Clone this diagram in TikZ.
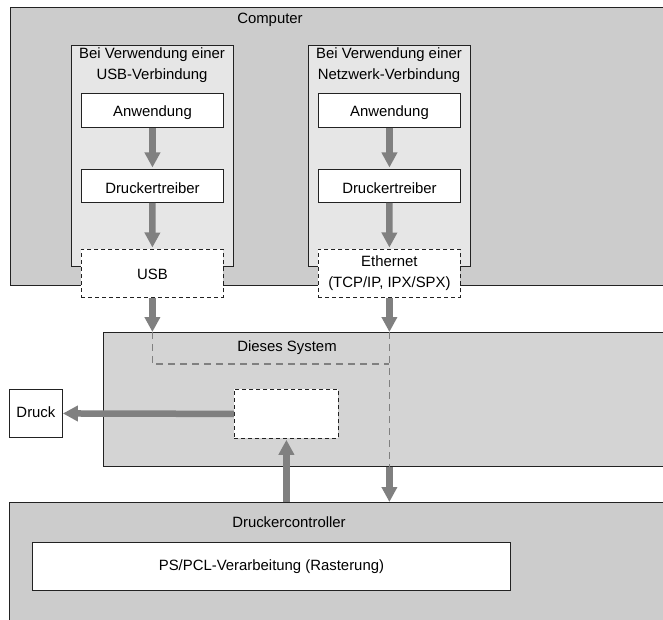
\documentclass[tikz,border=0pt]{standalone}
\usepackage{fontspec}
\setmainfont{Liberation Sans}
\usetikzlibrary{arrows.meta}
\definecolor{outerfill}{HTML}{CCCCCC}
\definecolor{sysfill}{HTML}{D4D4D4}
\definecolor{innerfill}{HTML}{E6E6E6}
\definecolor{arrowgray}{HTML}{808080}
\definecolor{edge}{HTML}{222222}
\begin{document}
\begin{tikzpicture}[x=1pt,y=-1pt,
  pbox/.style={draw=edge, line width=0.9pt, inner sep=0pt, anchor=north west},
  whitebox/.style={pbox, fill=white},
  dashbox/.style={draw=edge, line width=0.8pt, dash pattern=on 4pt off 3pt, fill=white, inner sep=0pt, anchor=north west},
  txt/.style={font=\fontsize{14.9}{21}\selectfont, inner sep=0pt, align=center},
  flow/.style={draw=arrowgray, line width=6.5pt, -{Triangle[width=15pt,length=15pt]}},
  gdash/.style={draw=arrowgray, line width=1.4pt, dash pattern=on 7pt off 5pt},
]
\clip (0,0) rectangle (663,620);
\fill[white] (0,0) rectangle (663,620);

% Computer
\node[pbox, fill=outerfill, minimum width=700pt, minimum height=278pt] (computer) at (10,7) {};
\node[txt] (computerlbl) at (270,20) {Computer};

% USB group
\node[pbox, fill=innerfill, minimum width=162pt, minimum height=221pt] (usbgrp) at (71,45) {};
\node[txt] (usbgrplbl) at (152,65.5) {Bei Verwendung einer\\USB-Verbindung};
\node[whitebox, minimum width=142pt, minimum height=34pt] (usbA) at (81,93) {};
\node[txt] at ([yshift=-2pt]usbA.center) {Anwendung};
\node[whitebox, minimum width=142pt, minimum height=33pt] (usbD) at (81,169) {};
\node[txt] at ([yshift=-2pt]usbD.center) {Druckertreiber};
\node[dashbox, minimum width=142pt, minimum height=48pt] (usb) at (81,249) {};
\node[txt] at ([yshift=-1pt]usb.center) {USB};

% Network group
\node[pbox, fill=innerfill, minimum width=162pt, minimum height=221pt] (netgrp) at (308,45) {};
\node[txt] (netgrplbl) at (389,65.5) {Bei Verwendung einer\\Netzwerk-Verbindung};
\node[whitebox, minimum width=142pt, minimum height=34pt] (netA) at (318,93) {};
\node[txt] at ([yshift=-2pt]netA.center) {Anwendung};
\node[whitebox, minimum width=142pt, minimum height=33pt] (netD) at (318,169) {};
\node[txt] at ([yshift=-2pt]netD.center) {Druckertreiber};
\node[dashbox, minimum width=142pt, minimum height=48pt] (eth) at (318,249) {};
\node[txt] at (eth.center) {Ethernet\\(TCP/IP, IPX/SPX)};

% Dieses System
\node[pbox, fill=sysfill, minimum width=620pt, minimum height=134pt] (ds) at (103,332) {};
\node[txt] (dslbl) at (287,348) {Dieses System};
\node[dashbox, minimum width=104pt, minimum height=49pt] (mid) at (234,389) {};

% Druck
\node[whitebox, minimum width=53pt, minimum height=48pt] (druck) at (9,389) {};
\node[txt] at ([yshift=1pt]druck.center) {Druck};

% Druckercontroller
\node[pbox, fill=outerfill, minimum width=700pt, minimum height=200pt] (dc) at (9,502) {};
\node[txt] (dclbl) at (289,522) {Druckercontroller};
\node[whitebox, minimum width=478pt, minimum height=48pt] (ps) at (32,542) {};
\node[txt] at (ps.center) {PS/PCL-Verarbeitung (Rasterung)};

% coordinates
\coordinate (usbIn) at (usb.south |- ds.north);
\coordinate (ethIn) at (eth.south |- ds.north);
\coordinate (bend) at (usb.south |- 0,364);
\coordinate (join) at (eth.south |- 0,364);
\coordinate (ethOut) at (eth.south |- ds.south);
\coordinate (ethDc) at (eth.south |- dc.north);
\coordinate (midDc) at (mid.south |- dc.north);

% dashed paths inside Dieses System
\draw[gdash] (usbIn) -- (bend) -- (join);
\draw[gdash] (ethIn) -- (ethOut);

% arrows
\draw[flow, shorten >=1.5pt] (usbA.south) -- (usbD.north);
\draw[flow, shorten >=1.5pt] (usbD.south) -- (usb.north);
\draw[flow, shorten >=1.5pt] (netA.south) -- (netD.north);
\draw[flow, shorten >=1.5pt] (netD.south) -- (eth.north);
\draw[flow] (usb.south) -- (usbIn);
\draw[flow] (eth.south) -- (ethIn);
\draw[flow] (mid.west) -- (druck.east);
\draw[flow, shorten >=1pt] (midDc) -- (mid.south);
\draw[flow] (ethOut) -- (ethDc);
\end{tikzpicture}
\end{document}
